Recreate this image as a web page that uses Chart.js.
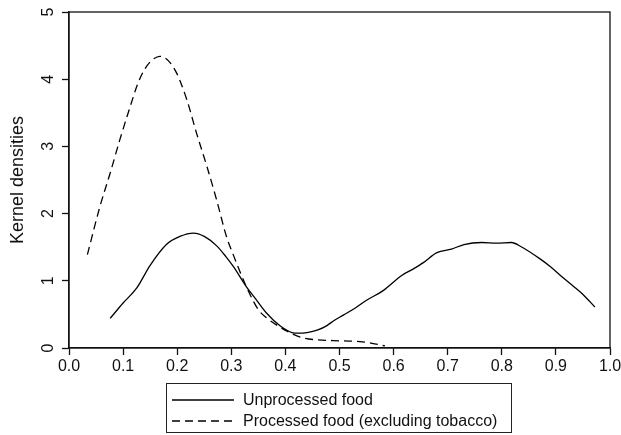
<!DOCTYPE html>
<html>
<head>
<meta charset="utf-8">
<title>Kernel densities</title>
<script src="https://cdn.jsdelivr.net/npm/chart.js@4/dist/chart.umd.min.js"></script>
<style>
  body { margin: 0; background: #fff; }
  #wrap { position: relative; width: 621px; height: 435px; font-family: "Liberation Sans", Arial, sans-serif; }
  #legend {
    position: absolute; left: 166px; top: 383px; width: 344px; height: 48px;
    border: 1px solid #222; box-sizing: content-box;
  }
  .row { position: absolute; left: 5px; height: 20px; display: flex; align-items: center; font-size: 16px; color: #111; }
  .row svg { width: 62px; height: 4px; margin-right: 9px; }
</style>
</head>
<body>
<div id="wrap">
  <canvas id="chart" width="621" height="435"></canvas>
  <div id="legend"></div>
</div>
<script>
// tick positions
const xTicks = [0, 0.1, 0.2, 0.3, 0.4, 0.5, 0.6, 0.7, 0.8, 0.9, 1.0];
const yTicks = [0, 1, 2, 3, 4, 5];

// Unprocessed food
const unprocessedX = [0.076, 0.10, 0.125, 0.15, 0.18, 0.205, 0.23, 0.25, 0.273, 0.29, 0.304, 0.328, 0.345, 0.365, 0.39,
  0.412, 0.425, 0.44, 0.46, 0.476, 0.49, 0.507, 0.53, 0.55, 0.58, 0.615, 0.635, 0.655, 0.68, 0.707, 0.73, 0.763,
  0.79, 0.818, 0.835, 0.87, 0.89, 0.914, 0.935, 0.951, 0.972];
const unprocessedY = [0.44, 0.67, 0.89, 1.23, 1.54, 1.66, 1.71, 1.66, 1.52, 1.36, 1.21, 0.91, 0.73, 0.52, 0.33,
  0.23, 0.22, 0.23, 0.27, 0.33, 0.41, 0.49, 0.60, 0.71, 0.85, 1.08, 1.17, 1.27, 1.42, 1.47, 1.54, 1.57,
  1.56, 1.57, 1.51, 1.33, 1.21, 1.04, 0.90, 0.79, 0.61];

// Processed food (excluding tobacco)
const processedX = [0.034, 0.057, 0.076, 0.094, 0.113, 0.127, 0.14, 0.153, 0.168, 0.183, 0.199, 0.218, 0.236, 0.255,
  0.273, 0.291, 0.304, 0.328, 0.35, 0.365, 0.384, 0.408, 0.433, 0.46, 0.489, 0.538, 0.56, 0.584];
const processedY = [1.39, 2.10, 2.60, 3.10, 3.59, 3.93, 4.15, 4.28, 4.34, 4.28, 4.09, 3.69, 3.19, 2.70,
  2.20, 1.66, 1.38, 0.91, 0.57, 0.45, 0.34, 0.23, 0.15, 0.12, 0.11, 0.094, 0.07, 0.03];

const FONT = '"Liberation Sans", Arial, sans-serif';

function toPoints(xs, ys) {
  return xs.map((x, i) => ({ x: x, y: ys[i] }));
}

// box around the plot region
const framePlugin = {
  id: 'frame',
  afterDraw(chart) {
    const a = chart.chartArea, ctx = chart.ctx;
    ctx.save();
    ctx.strokeStyle = '#111';
    ctx.lineWidth = 1.3;
    ctx.strokeRect(a.left, a.top, a.right - a.left, a.bottom - a.top);
    ctx.restore();
  }
};

const chart = new Chart(document.getElementById('chart'), {
  type: 'line',
  data: {
    datasets: [
      {
        label: 'Unprocessed food',
        data: toPoints(unprocessedX, unprocessedY),
        borderColor: '#000',
        borderWidth: 1.3,
        pointRadius: 0,
        cubicInterpolationMode: 'monotone'
      },
      {
        label: 'Processed food (excluding tobacco)',
        data: toPoints(processedX, processedY),
        borderColor: '#000',
        borderWidth: 1.3,
        borderDash: [8, 5],
        pointRadius: 0,
        cubicInterpolationMode: 'monotone'
      }
    ]
  },
  options: {
    responsive: false,
    animation: false,
    layout: { padding: { left: 0, top: 12, right: 11, bottom: 63 } },
    plugins: {
      legend: { display: false },
      tooltip: { enabled: false }
    },
    scales: {
      x: {
        type: 'linear',
        min: 0,
        max: 1,
        afterBuildTicks: s => { s.ticks = xTicks.map(v => ({ value: v })); },
        afterFit: s => { s.height = 24; s.paddingLeft = 0; s.paddingRight = 0; },
        border: { display: true, color: '#111', width: 1.3 },
        grid: { drawOnChartArea: false, drawTicks: true, tickLength: 7, color: '#111', tickWidth: 1.3 },
        ticks: {
          color: '#111',
          padding: 2,
          maxRotation: 0,
          font: { family: FONT, size: 16 },
          callback: v => v.toFixed(1)
        }
      },
      y: {
        min: 0,
        max: 5,
        afterBuildTicks: s => { s.ticks = yTicks.map(v => ({ value: v })); },
        afterFit: s => { s.width = 69; s.paddingTop = 0; s.paddingBottom = 0; },
        border: { display: true, color: '#111', width: 1.3 },
        grid: { drawOnChartArea: false, drawTicks: true, tickLength: 7, color: '#111', tickWidth: 1.3 },
        title: {
          display: true,
          text: 'Kernel densities',
          color: '#111',
          padding: { top: 7, bottom: 0 },
          font: { family: FONT, size: 18 }
        },
        ticks: {
          color: '#111',
          padding: 9,
          minRotation: 90,
          maxRotation: 90,
          crossAlign: 'center',
          font: { family: FONT, size: 16 }
        }
      }
    }
  },
  plugins: [framePlugin]
});

// legend rows built from the datasets
const legend = document.getElementById('legend');
chart.data.datasets.forEach((ds, i) => {
  const row = document.createElement('div');
  row.className = 'row';
  row.style.top = (6 + i * 21) + 'px';
  const dash = ds.borderDash ? ds.borderDash.join(',') : 'none';
  row.innerHTML = '<svg viewBox="0 0 62 4"><line x1="0" y1="2" x2="62" y2="2" stroke="#000" stroke-width="1.3" stroke-dasharray="' + dash + '"/></svg>';
  const span = document.createElement('span');
  span.textContent = ds.label;
  row.appendChild(span);
  legend.appendChild(row);
});
</script>
</body>
</html>
